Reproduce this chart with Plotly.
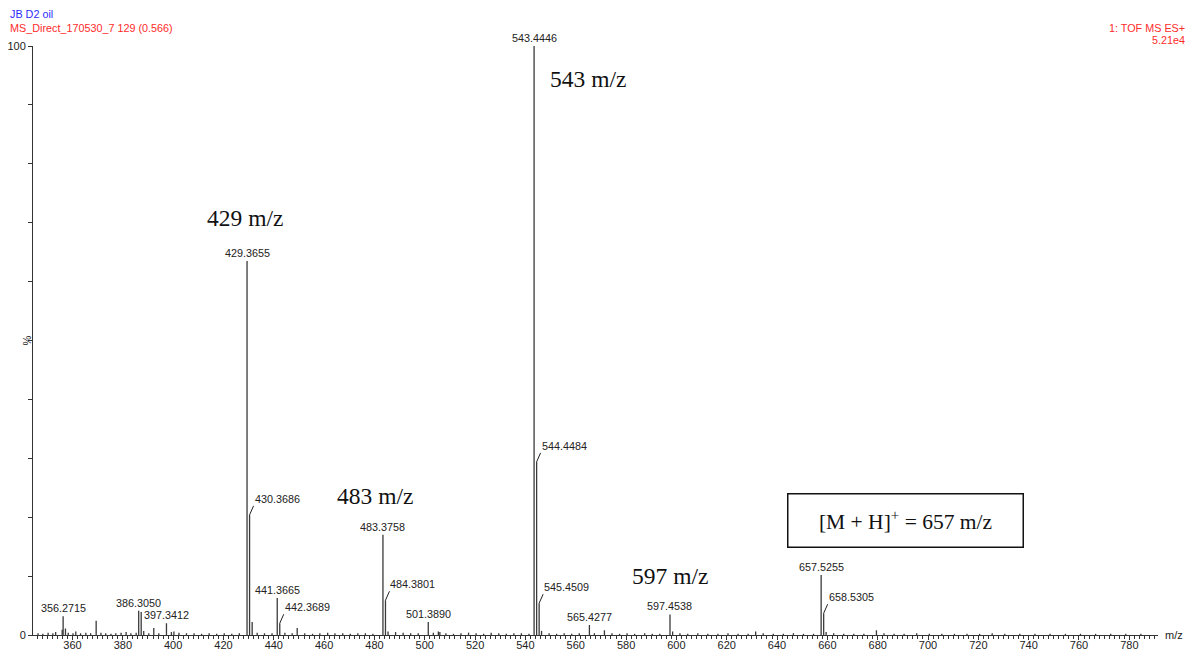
import plotly.graph_objects as go

# ---- data ----
labeled_mz = [356.2715, 386.3050, 397.3412, 429.3655, 441.3665, 483.3758,
              501.3890, 543.4446, 565.4277, 597.4538, 657.5255]
labeled_int = [3.2, 4.1, 2.0, 63.5, 6.3, 17.0, 2.2, 100.0, 1.7, 3.5, 10.2]

hooked_mz = [430.3686, 442.3689, 484.3801, 544.4484, 545.4509, 658.5305]
hooked_int = [20.4, 2.0, 5.9, 29.4, 5.4, 3.7]

other_mz = [355.9, 357.2, 369.4, 387.3, 388.3, 392.3, 431.4, 449.3, 485.4,
            505.4, 506.0, 546.4, 571.4, 598.5, 631.5, 659.5, 679.5]
other_int = [0.9, 1.1, 2.4, 3.9, 0.7, 1.2, 2.2, 1.2, 0.6,
             0.6, 0.5, 0.7, 0.8, 0.6, 0.6, 0.5, 0.8]

noise_mz = [346.3, 348.2, 350.3, 352.2, 353.3, 358.3, 360.2, 361.3, 363.2, 365.3,
            367.2, 371.3, 373.2, 375.3, 377.2, 379.3, 381.3, 383.2, 385.3, 390.3,
            394.3, 399.3, 400.3, 402.3, 405.3, 408.3, 411.3, 414.3, 417.3, 420.3,
            423.3, 426.3, 433.4, 436.3, 439.3, 444.4, 447.3, 452.3, 455.4, 458.3,
            461.4, 464.3, 467.4, 470.4, 473.4, 476.4, 479.4, 488.4, 491.4, 494.4,
            497.4, 503.4, 508.4, 511.4, 514.4, 517.4, 520.4, 523.4, 526.4, 529.4,
            532.4, 535.4, 538.4, 541.4, 549.4, 552.4, 555.4, 558.4, 561.4, 567.4,
            574.4, 577.4, 580.4, 583.4, 587.4, 590.4, 593.4, 601.4, 604.5, 608.5,
            612.5, 616.5, 620.5, 624.5, 628.5, 634.5, 638.5, 642.5, 646.5, 650.5,
            654.5, 662.5, 666.5, 670.5, 674.5, 682.5, 686.5, 690.5, 695.5, 700.5,
            705.5, 710.5, 715.5, 720.5, 725.5, 730.5, 736.5, 742.5, 748.5, 754.6,
            760.6, 766.6, 772.6, 778.6, 784.6]
noise_int = [0.3, 0.2, 0.4, 0.3, 0.5, 0.4, 0.3, 0.6, 0.3, 0.4,
             0.3, 0.4, 0.3, 0.2, 0.3, 0.4, 0.5, 0.3, 0.4, 0.3,
             0.3, 0.5, 0.6, 0.4, 0.3, 0.3, 0.2, 0.3, 0.2, 0.3,
             0.2, 0.3, 0.4, 0.3, 0.3, 0.4, 0.3, 0.3, 0.2, 0.3,
             0.4, 0.3, 0.3, 0.2, 0.3, 0.3, 0.2, 0.5, 0.4, 0.3,
             0.3, 0.4, 0.3, 0.2, 0.3, 0.4, 0.3, 0.2, 0.4, 0.3,
             0.2, 0.3, 0.3, 0.2, 0.3, 0.2, 0.3, 0.2, 0.3, 0.3,
             0.3, 0.2, 0.3, 0.2, 0.3, 0.2, 0.2, 0.3, 0.2, 0.3,
             0.2, 0.2, 0.3, 0.2, 0.2, 0.3, 0.2, 0.2, 0.3, 0.2,
             0.2, 0.3, 0.2, 0.2, 0.2, 0.3, 0.2, 0.2, 0.3, 0.2,
             0.2, 0.2, 0.2, 0.2, 0.3, 0.2, 0.2, 0.2, 0.2, 0.2,
             0.2, 0.2, 0.2, 0.2, 0.2]

ion_labels = ["429 m/z", "543 m/z", "483 m/z", "597 m/z"]
ion_label_x = [428.6, 564.9, 480.2, 597.5]
ion_label_y = [70.8, 94.4, 23.6, 10.0]

x_range = [344.3, 791.4]
x_ticks = list(range(360, 781, 20))

# ---- build stick traces ----
all_mz = labeled_mz + hooked_mz + other_mz + noise_mz
all_int = labeled_int + hooked_int + other_int + noise_int
xs, ys = [], []
for m, h in zip(all_mz, all_int):
    xs += [m, m, None]
    ys += [0, h, None]

fig = go.Figure()
fig.add_trace(go.Scatter(x=xs, y=ys, mode="lines",
                         line=dict(color="#3a3a3a", width=1.3),
                         hoverinfo="skip", showlegend=False))

SANS = "Arial, Liberation Sans, sans-serif"
SERIF = "Times New Roman, Liberation Serif, serif"

# plot area in page pixels: x 33..1158, y 46..635 (page has an 8px body margin)
PW, PH = 1125, 589


def px(x):
    return (x - 33) / PW


def py(y):
    return (635 - y) / PH


ann = []
for m, h in zip(labeled_mz, labeled_int):
    ann.append(dict(x=m, y=h, xref="x", yref="y", text=f"{m:.4f}",
                    showarrow=False, xanchor="center", yanchor="bottom",
                    font=dict(family=SANS, size=10.8, color="#222")))
for m, h in zip(hooked_mz, hooked_int):
    ann.append(dict(x=m, y=h, xref="x", yref="y", text=f"{m:.4f}",
                    showarrow=True, arrowhead=0, arrowwidth=1, arrowcolor="#222",
                    ax=4, ay=-9, standoff=0, xanchor="left", yanchor="bottom",
                    borderpad=0,
                    font=dict(family=SANS, size=10.8, color="#222")))
for t, x, y in zip(ion_labels, ion_label_x, ion_label_y):
    ann.append(dict(x=x, y=y, xref="x", yref="y", text=t, showarrow=False,
                    font=dict(family=SERIF, size=23.5, color="#111")))

ann.append(dict(x=690.9, y=19.5, xref="x", yref="y",
                text="[M + H]<sup>+</sup> = 657 m/z", showarrow=False,
                bordercolor="#111", borderwidth=1.5, borderpad=2,
                width=230, height=48, bgcolor="white",
                font=dict(family=SERIF, size=21.5, color="#111")))

# header texts
ann.append(dict(xref="paper", yref="paper", x=px(8), y=py(14),
                text="JB D2 oil", showarrow=False, xanchor="left", yanchor="middle",
                font=dict(family=SANS, size=10.8, color="#2b2bff")))
ann.append(dict(xref="paper", yref="paper", x=px(8), y=py(28),
                text="MS_Direct_170530_7 129 (0.566)", showarrow=False,
                xanchor="left", yanchor="middle",
                font=dict(family=SANS, size=10.8, color="#ff2b2b")))
ann.append(dict(xref="paper", yref="paper", x=px(1187), y=py(28),
                text="1: TOF MS ES+", showarrow=False, xanchor="right", yanchor="middle",
                font=dict(family=SANS, size=10.8, color="#ff2b2b")))
ann.append(dict(xref="paper", yref="paper", x=px(1187), y=py(40),
                text="5.21e4", showarrow=False, xanchor="right", yanchor="middle",
                font=dict(family=SANS, size=10.8, color="#ff2b2b")))
# axis titles
ann.append(dict(xref="paper", yref="paper", x=1, y=0, xshift=5, text="m/z",
                showarrow=False, xanchor="left", yanchor="middle",
                font=dict(family=SANS, size=11, color="#222")))
ann.append(dict(xref="paper", yref="paper", x=0, y=0.5, xshift=-7, text="%",
                textangle=-90, showarrow=False, xanchor="center", yanchor="middle",
                font=dict(family=SANS, size=11, color="#222")))

y_tickvals = list(range(0, 101, 10))
y_ticktext = ["0"] + [""] * 9 + ["100"]

fig.update_layout(
    width=1188, height=644,
    margin=dict(l=25, r=38, t=38, b=17, autoexpand=False),
    paper_bgcolor="white", plot_bgcolor="white",
    annotations=ann,
    xaxis=dict(range=x_range, showgrid=False, zeroline=False, automargin=False,
               showline=True, linecolor="#333", linewidth=1,
               tickmode="array", tickvals=x_ticks,
               ticks="outside", ticklen=4, tickcolor="#333", tickwidth=1,
               ticklabelstandoff=-4,
               minor=dict(tickmode="linear", tick0=0, dtick=2, ticks="outside",
                          ticklen=3, tickcolor="#333", tickwidth=1),
               tickfont=dict(family=SANS, size=11, color="#222")),
    yaxis=dict(range=[0, 100], showgrid=False, zeroline=False, automargin=False,
               showline=True, linecolor="#333", linewidth=1,
               tickmode="array", tickvals=y_tickvals, ticktext=y_ticktext,
               ticks="outside", ticklen=4, tickcolor="#333", tickwidth=1,
               tickfont=dict(family=SANS, size=11, color="#222")),
)

fig.write_html("out.html")
